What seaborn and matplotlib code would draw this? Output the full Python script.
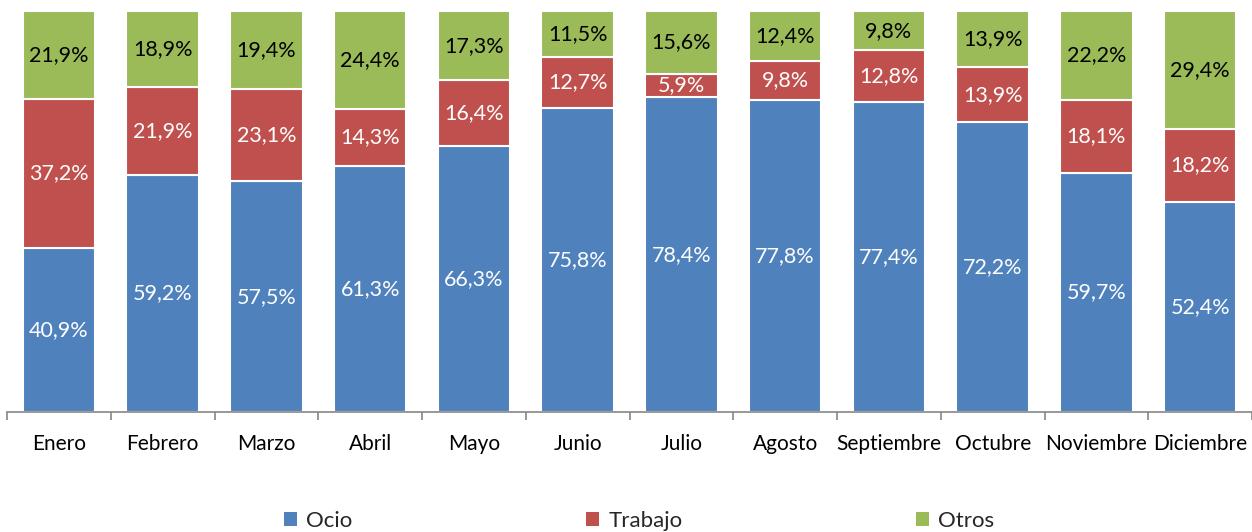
import numpy as np
import pandas as pd
import matplotlib
matplotlib.use("Agg")
import matplotlib.pyplot as plt
from matplotlib.patches import Patch
import seaborn as sns

meses = ["Enero", "Febrero", "Marzo", "Abril", "Mayo", "Junio", "Julio",
         "Agosto", "Septiembre", "Octubre", "Noviembre", "Diciembre"]
ocio = [40.9, 59.2, 57.5, 61.3, 66.3, 75.8, 78.4, 77.8, 77.4, 72.2, 59.7, 52.4]
trabajo = [37.2, 21.9, 23.1, 14.3, 16.4, 12.7, 5.9, 9.8, 12.8, 13.9, 18.1, 18.2]
otros = [21.9, 18.9, 19.4, 24.4, 17.3, 11.5, 15.6, 12.4, 9.8, 13.9, 22.2, 29.4]

series = ["Ocio", "Trabajo", "Otros"]
colores = ["#4F81BD", "#C0504D", "#9BBB59"]
color_texto = ["white", "white", "black"]

sns.set_theme(style="white")
plt.rcParams["font.family"] = ["Lato", "DejaVu Sans"]

df = pd.DataFrame({"mes": meses, "Ocio": ocio, "Trabajo": trabajo, "Otros": otros})
# normalizar a 100%
total = df[series].sum(axis=1)
for s in series:
    df[s + "_pct"] = df[s] / total * 100

fig = plt.figure(figsize=(12.52, 5.32), dpi=100)
ax = fig.add_axes([7 / 1252, 1 - 412 / 532, 1245 / 1252, 401 / 532])

base = np.zeros(len(meses))
for s, c, tc in zip(series, colores, color_texto):
    vals = df[s + "_pct"].values
    sns.barplot(data=df, x="mes", y=s + "_pct", bottom=base, color=c, width=0.70,
                edgecolor="white", linewidth=1.5, saturation=1, ax=ax)
    for i, (v, b, lab) in enumerate(zip(vals, base, df[s].values)):
        ax.text(i, b + v / 2, f"{lab:.1f}%".replace(".", ","), ha="center", va="center",
                color=tc, fontsize=15.5)
    base = base + vals

ax.set_xlim(-0.5, len(meses) - 0.5)
ax.set_ylim(0, 100)
ax.set_xlabel("")
ax.set_ylabel("")
ax.set_yticks([])
for side in ["top", "right", "left"]:
    ax.spines[side].set_visible(False)
ax.spines["bottom"].set_color("#868686")
ax.spines["bottom"].set_linewidth(1.2)
ax.set_xticks(np.arange(len(meses)))
ax.set_xticklabels(meses, fontsize=15, color="black")
ax.set_xticks(np.arange(-0.5, len(meses)), minor=True)
ax.tick_params(axis="x", which="major", length=0, pad=16)
ax.tick_params(axis="x", which="minor", length=6, color="#868686", width=1.2, bottom=True)

handles = [Patch(facecolor=c, edgecolor="none") for c in colores]
fig.legend(handles, series, loc="center", bbox_to_anchor=(0.5104, 1 - 521 / 532), ncol=3,
           frameon=False, fontsize=16, handlelength=0.6, handleheight=0.6,
           handletextpad=0.4, columnspacing=10.5)

fig.savefig("out.png", dpi=100)
